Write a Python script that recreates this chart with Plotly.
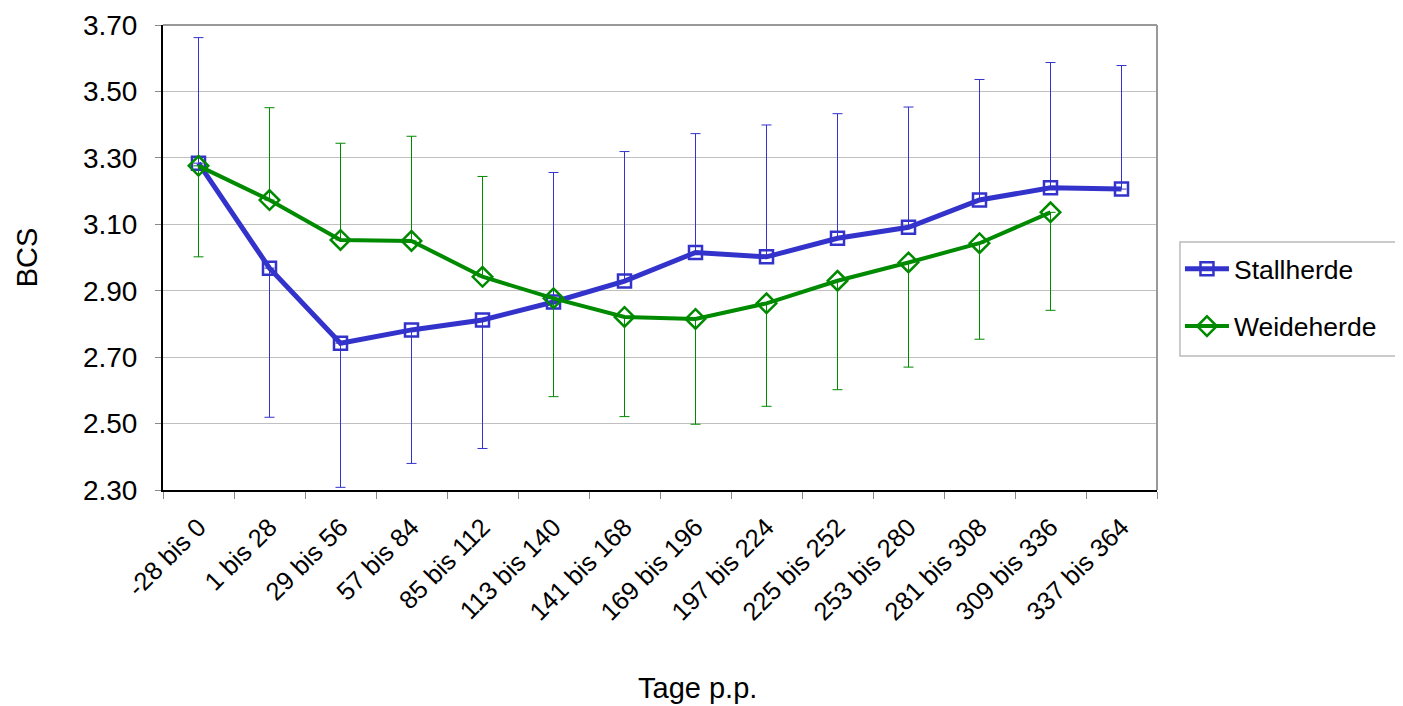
import plotly.graph_objects as go

categories = ["-28 bis 0", "1 bis 28", "29 bis 56", "57 bis 84", "85 bis 112",
              "113 bis 140", "141 bis 168", "169 bis 196", "197 bis 224",
              "225 bis 252", "253 bis 280", "281 bis 308", "309 bis 336",
              "337 bis 364"]

stall_bcs = [3.284, 2.968, 2.742, 2.782, 2.812, 2.866, 2.929, 3.015,
             3.002, 3.058, 3.091, 3.173, 3.210, 3.206]
stall_sd_plus = [0.378, 0, 0, 0, 0, 0.390, 0.390, 0.358, 0.397, 0.375,
                 0.362, 0.363, 0.377, 0.372]
stall_sd_minus = [0, 0.449, 0.434, 0.402, 0.387, 0, 0, 0, 0, 0, 0, 0, 0, 0]

weide_bcs = [3.276, 3.173, 3.053, 3.050, 2.942, 2.877, 2.821, 2.815,
             2.862, 2.930, 2.985, 3.043, 3.136]
weide_sd_plus = [0, 0.278, 0.291, 0.315, 0.302, 0, 0, 0, 0, 0, 0, 0, 0]
weide_sd_minus = [0.274, 0, 0, 0, 0, 0.296, 0.300, 0.317, 0.310, 0.328,
                  0.315, 0.289, 0.295]

y_ticks = [2.30, 2.50, 2.70, 2.90, 3.10, 3.30, 3.50, 3.70]

BLUE = "#3333CC"
GREEN = "#008A00"
FONT = "Liberation Sans, Arial, sans-serif"

fig = go.Figure()
fig.add_trace(go.Scatter(
    x=categories, y=stall_bcs, name="Stallherde", mode="lines+markers",
    legendgroup="a",
    line=dict(color=BLUE, width=5),
    marker=dict(symbol="square-open", size=13, color=BLUE, line=dict(width=2.5, color=BLUE)),
    error_y=dict(type="data", symmetric=False, array=stall_sd_plus,
                 arrayminus=stall_sd_minus, color=BLUE, thickness=1, width=5),
))
fig.add_trace(go.Scatter(
    x=categories[:len(weide_bcs)], y=weide_bcs, name="Weideherde", mode="lines+markers",
    legendgroup="b",
    line=dict(color=GREEN, width=4),
    marker=dict(symbol="diamond-open", size=15, color=GREEN, line=dict(width=2.5, color=GREEN)),
    error_y=dict(type="data", symmetric=False, array=weide_sd_plus,
                 arrayminus=weide_sd_minus, color=GREEN, thickness=1, width=5),
))

fig.update_layout(
    width=1403, height=706,
    margin=dict(l=155, r=254, t=17, b=224, autoexpand=False),
    paper_bgcolor="white", plot_bgcolor="white",
    font=dict(family=FONT, size=26, color="black"),
    showlegend=True,
    legend=dict(x=1.0231, y=0.527, xanchor="left", yanchor="top",
                borderwidth=0, bgcolor="rgba(0,0,0,0)",
                font=dict(size=26.5), traceorder="grouped", tracegroupgap=20,
                itemwidth=44),
    shapes=[
        dict(type="line", xref="paper", yref="paper", x0=0, x1=1, y0=1, y1=1,
             line=dict(color="#999999", width=2)),
        dict(type="line", xref="paper", yref="paper", x0=1, x1=1, y0=0, y1=1,
             line=dict(color="#999999", width=2)),
        dict(type="rect", xref="paper", yref="paper", x0=1.0231, x1=1.2414,
             y0=0.2882, y1=0.5333, line=dict(color="#BBBBBB", width=1.5)),
    ],
    annotations=[
        dict(text="Tage p.p.", xref="paper", yref="paper", x=0.538, y=-0.425,
             xanchor="center", yanchor="middle", showarrow=False,
             font=dict(size=29)),
    ],
)

fig.update_xaxes(
    type="category", categoryorder="array", categoryarray=categories,
    range=[-0.5, len(categories) - 0.5], automargin=False,
    showline=True, linecolor="black", linewidth=2,
    ticks="outside", tickson="boundaries", ticklen=7, tickcolor="#888888",
    tickangle=-45, tickfont=dict(size=25.5), ticklabelstandoff=10,
    showgrid=False,
)
fig.update_yaxes(
    range=[2.30, 3.70], tickvals=y_ticks, tickformat=".2f", automargin=False,
    showline=True, linecolor="black", linewidth=2,
    ticks="outside", ticklen=6, tickcolor="#888888", ticklabelstandoff=12,
    showgrid=True, gridcolor="#C0C0C0", gridwidth=1,
    zeroline=False, tickfont=dict(size=28),
    title=dict(text="BCS", font=dict(size=29), standoff=37),
)

fig.write_html("out.html")
